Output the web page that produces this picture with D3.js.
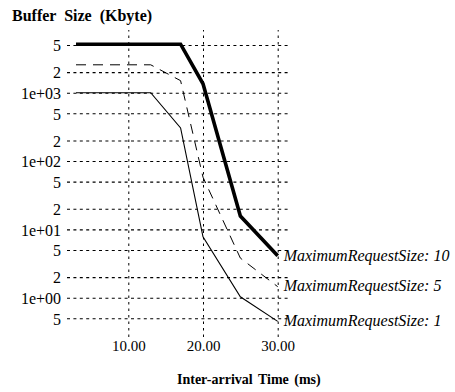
<!DOCTYPE html>
<html>
<head>
<meta charset="utf-8">
<script src="https://cdn.jsdelivr.net/npm/d3@7"></script>
<style>
  html, body { margin: 0; padding: 0; background: #fff; }
  svg { display: block; }
</style>
</head>
<body>
<svg id="chart" width="455" height="392"></svg>
<script>
// ---- data ----
const seriesNames = ["MaximumRequestSize: 10", "MaximumRequestSize: 5", "MaximumRequestSize: 1"];
const xMRS10 = [3, 17, 20, 25, 30];
const yMRS10 = [5120, 5120, 1350, 15.7, 4.1];
const xMRS5 = [3, 13, 17, 20, 25, 30];
const yMRS5 = [2560, 2560, 1500, 58, 3.8, 1.45];
const xMRS1 = [3, 13, 17, 20, 25, 30];
const yMRS1 = [1000, 1000, 305, 7.8, 1.03, 0.45];
const xTicks = [10, 20, 30];
const xTickLabels = ["10.00", "20.00", "30.00"];
const yTicks = [5000, 2000, 1000, 500, 200, 100, 50, 20, 10, 5, 2, 1, 0.5];
const yTickLabels = ["5", "2", "1e+03", "5", "2", "1e+02", "5", "2", "1e+01", "5", "2", "1e+00", "5"];
const yTitle = "Buffer Size (Kbyte)";
const xTitle = "Inter-arrival Time (ms)";

// ---- layout ----
const plot = { left: 67, right: 288, top: 30, bottom: 337 };
const svg = d3.select("#chart");
const serif = "'Liberation Serif', 'Times New Roman', serif";

const x = d3.scaleLinear().domain([10, 30]).range([128.3, 277.7]);
const y = d3.scaleLog().domain([1, 1000]).range([297.7, 92.7]);

// horizontal grid + y labels
const gy = svg.append("g").attr("transform", `translate(${plot.left},0)`)
  .call(d3.axisLeft(y).tickValues(yTicks).tickFormat((d, i) => yTickLabels[i])
    .tickSize(-(plot.right - plot.left)).tickPadding(6));
gy.select(".domain").remove();
gy.selectAll(".tick line").attr("stroke", "#000").attr("stroke-width", 1.1).attr("stroke-dasharray", "3,3.4");
gy.selectAll(".tick text").attr("font-family", serif).attr("font-size", 16).attr("fill", "#000").attr("dy", "0.36em");

// vertical grid + x labels
const gx = svg.append("g").attr("transform", `translate(0,${plot.bottom})`)
  .call(d3.axisBottom(x).tickValues(xTicks).tickFormat((d, i) => xTickLabels[i])
    .tickSize(-(plot.bottom - plot.top)).tickPadding(3));
gx.select(".domain").remove();
gx.selectAll(".tick line").attr("stroke", "#000").attr("stroke-width", 1).attr("stroke-dasharray", "2.5,4");
gx.selectAll(".tick text").attr("font-family", serif).attr("font-size", 15).attr("fill", "#000");

// lines
const line = d3.line().x(d => x(d[0])).y(d => y(d[1]));
const series = [
  { name: seriesNames[0], pts: d3.zip(xMRS10, yMRS10), width: 3.6, dash: null },
  { name: seriesNames[1], pts: d3.zip(xMRS5, yMRS5), width: 1, dash: "10,7" },
  { name: seriesNames[2], pts: d3.zip(xMRS1, yMRS1), width: 1.1, dash: null }
];
series.forEach(s => {
  svg.append("path").datum(s.pts).attr("d", line)
    .attr("fill", "none").attr("stroke", "#000")
    .attr("stroke-width", s.width)
    .attr("stroke-linejoin", "miter")
    .attr("stroke-dasharray", s.dash);
  const last = s.pts[s.pts.length - 1];
  svg.append("text").attr("x", x(last[0]) + 6).attr("y", y(last[1]))
    .attr("dy", "0.3em")
    .attr("font-family", serif).attr("font-style", "italic").attr("font-size", 16)
    .attr("fill", "#000").text(s.name);
});

// titles
svg.append("text").attr("x", 12).attr("y", 20.7)
  .attr("font-family", serif).attr("font-weight", "bold").attr("font-size", 16)
  .attr("word-spacing", "4px").attr("fill", "#000").text(yTitle);
svg.append("text").attr("x", 177).attr("y", 383.5)
  .attr("font-family", serif).attr("font-weight", "bold").attr("font-size", 14)
  .attr("word-spacing", "2px").attr("fill", "#000").text(xTitle);
</script>
</body>
</html>
